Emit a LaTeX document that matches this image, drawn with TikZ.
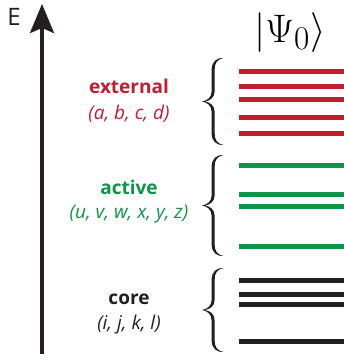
\documentclass[tikz,border=0pt]{standalone}
\usepackage{fontspec}
\setmainfont{Open Sans}
\usetikzlibrary{arrows.meta}
\definecolor{extred}{RGB}{192,30,45}
\definecolor{actgreen}{RGB}{14,148,70}
\definecolor{coreblack}{RGB}{35,31,32}
% curly brace: tip at (#1,#2), half height #3
\newcommand{\levelbrace}[3]{%
  \fill[coreblack,shift={(#1,#2)}] (22,{-#3})
    .. controls (14,{-#3-0.5}) and (9.6,{-#3+4}) .. (9.6,{-#3+12})
    -- (9.6,-10) .. controls (9.6,-4) and (5,-0.8) .. (0,0)
    .. controls (5,0.8) and (9.6,4) .. (9.6,10)
    -- (9.6,{#3-12}) .. controls (9.6,{#3-4}) and (14,{#3+0.5}) .. (22,{#3})
    .. controls (15,{#3-1.2}) and (12.6,{#3-5}) .. (12.6,{#3-12})
    -- (12.6,10) .. controls (12.6,4) and (8,0.8) .. (3,0)
    .. controls (8,-0.8) and (12.6,-4) .. (12.6,-10)
    -- (12.6,{-#3+12}) .. controls (12.6,{-#3+5}) and (15,{-#3+1.2}) .. (22,{-#3})
    -- cycle;}

\begin{document}
\begin{tikzpicture}[x=1pt,y=-1pt,
  level/.style={line width=5pt},
  head/.style={anchor=base,inner sep=0pt,font=\bfseries\fontsize{19}{22}\selectfont},
  idx/.style={anchor=base,inner sep=0pt,font=\itshape\fontsize{19}{22}\selectfont}]
  \useasboundingbox (0,0) rectangle (344,360);
  % energy axis
  \coordinate (ebot) at (42,354);
  \coordinate (etop) at (42,4);
  \draw[coreblack,line width=3.3pt,-{Stealth[length=29pt,width=24pt,inset=5pt]}] (ebot) -- (etop);
  \node[anchor=base,inner sep=0pt,coreblack,font=\fontsize{24}{26}\selectfont] (elab) at (14,25.5) {E};
  \node[anchor=base,inner sep=0pt,scale=1.6,font=\Huge] (ket) at (290,42) {$|\Psi_0\rangle$};
  % orbital levels
  \foreach \y in {71,86,99,117,133} \draw[level,extred] (239,\y) -- (344,\y);
  \foreach \y in {165,194,206,246} \draw[level,actgreen] (239,\y) -- (344,\y);
  \foreach \y in {280,294,304,341} \draw[level,coreblack] (239,\y) -- (344,\y);
  % braces
  \levelbrace{202}{101.5}{43.5}
  \levelbrace{202}{205.5}{50.5}
  \levelbrace{202}{310}{42}
  % labels
  \node[head,extred] (exthead) at (129,93) {external};
  \node[idx,extred] (extidx) at (129,119) {(a, b, c, d)};
  \node[head,actgreen] (acthead) at (129,194) {active};
  \node[idx,actgreen] (actidx) at (129,218) {(u, v, w, x, y, z)};
  \node[head,coreblack] (corehead) at (129,304) {core};
  \node[idx,coreblack] (coreidx) at (129,329) {(i, j, k, l)};
\end{tikzpicture}
\end{document}
